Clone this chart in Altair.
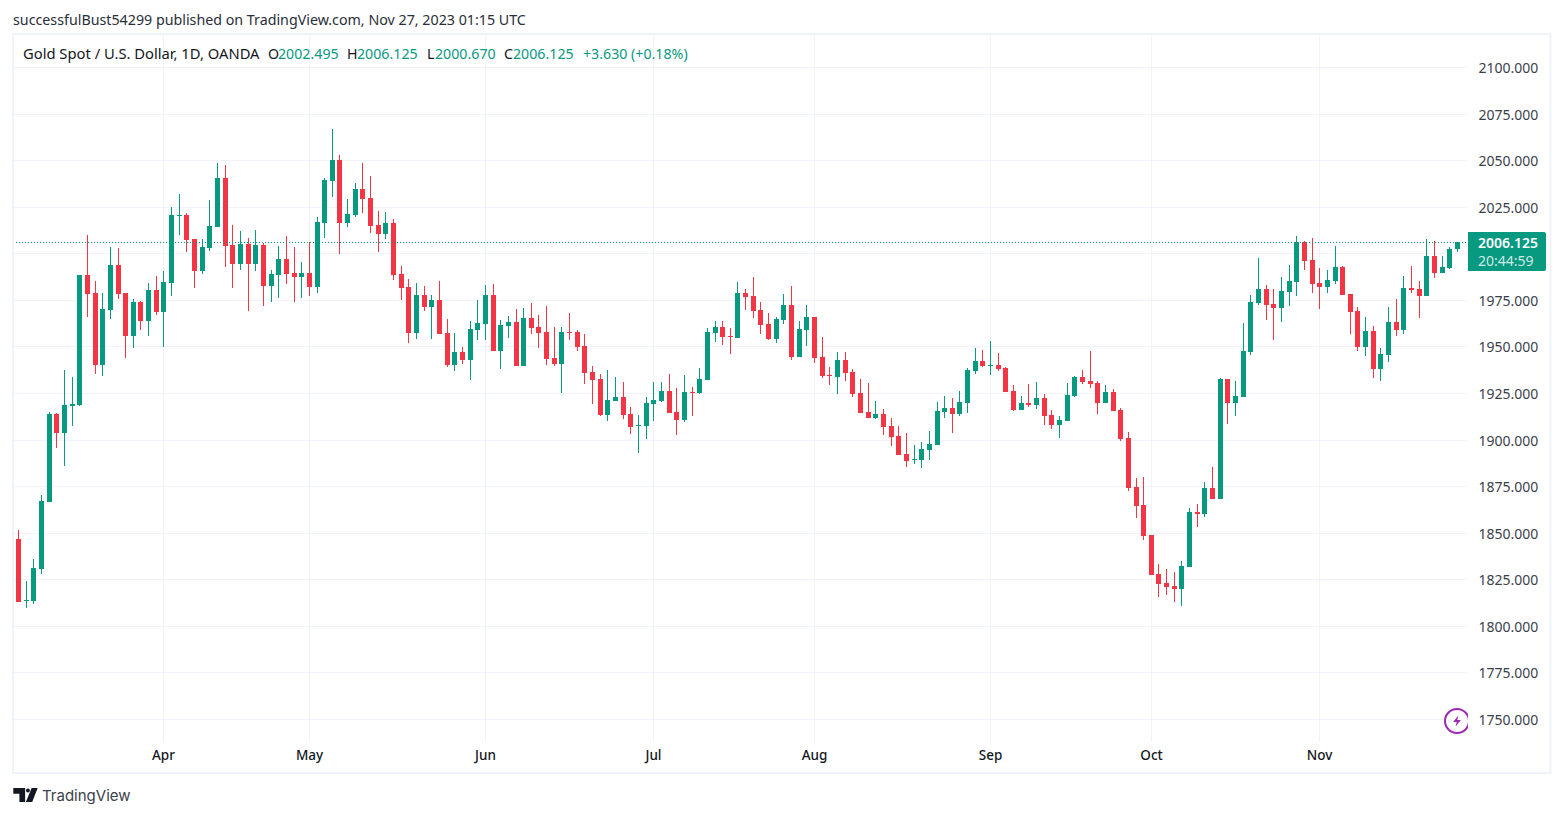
import altair as alt
import pandas as pd

opens = [1846.6,1813.4,1813.4,1830.5,1866.5,1913.7,1903.5,1918.0,1918.6,1988.4,1978.7,1940.0,1969.6,1993.7,1978.7,1955.6,1973.9,1963.7,1980.3,1968.5,
1984.1,2020.0,2020.6,2007.7,1990.5,2002.9,2014.1,2040.4,2004.5,1994.3,2005.0,1994.3,2004.5,1982.5,1988.4,1996.9,1989.4,1987.2,1989.4,1981.9,
2016.3,2038.8,2050.1,2016.3,2020.6,2034.5,2029.7,2015.2,2010.4,2016.3,1988.9,1981.9,1957.2,1977.6,1971.2,1974.9,1957.2,1940.0,1947.0,1942.7,
1958.8,1962.1,1977.6,1947.6,1961.0,1963.1,1939.5,1965.3,1960.4,1957.8,1943.8,1940.6,1957.8,1957.8,1950.2,1936.3,1932.5,1913.2,1920.7,1922.9,
1913.7,1907.3,1907.3,1919.1,1920.7,1926.1,1914.8,1910.5,1925.6,1925.0,1932.0,1957.2,1960.4,1955.6,1954.5,1978.7,1977.1,1969.6,1962.1,1954.0,
1964.2,1972.2,1944.3,1958.8,1965.8,1944.3,1934.7,1933.6,1942.7,1936.3,1925.0,1914.8,1911.6,1913.7,1907.3,1901.9,1892.3,1889.1,1889.1,1894.4,
1897.1,1914.8,1917.0,1913.7,1919.6,1936.8,1942.2,1939.5,1940.0,1938.4,1926.1,1915.9,1919.6,1918.6,1922.3,1913.2,1907.8,1910.0,1923.4,1933.6,
1931.5,1930.4,1919.6,1925.6,1915.9,1900.9,1874.6,1864.9,1848.8,1827.8,1823.0,1821.4,1819.8,1831.6,1861.1,1860.1,1874.0,1868.1,1932.5,1919.6,
1922.9,1947.0,1973.3,1980.8,1972.8,1970.6,1979.2,1984.6,2006.1,1996.4,1984.1,1981.9,1985.1,1992.6,1978.2,1969.0,1949.7,1958.3,1937.9,1945.4,
1963.1,1958.8,1981.4,1980.8,1977.1,1998.6,1989.4,1992.1,2002.495]
highs = [1851.5,1824.1,1835.9,1870.3,1914.8,1914.3,1937.4,1933.6,1988.4,2009.8,1985.1,1978.7,2003.4,2002.9,1978.7,1975.5,1974.4,1984.1,1987.8,1990.5,
2024.9,2031.8,2021.6,2007.7,2007.7,2028.6,2048.5,2047.4,2015.2,2012.0,2008.2,2012.5,2005.5,1991.0,2003.9,2009.3,2003.4,1995.3,2006.1,2019.5,
2040.4,2066.7,2052.8,2029.2,2037.7,2048.5,2041.5,2022.7,2022.2,2018.4,1993.2,1986.2,1984.1,1982.5,1977.6,1985.1,1964.7,1957.2,1949.7,1963.7,
1974.9,1983.0,1983.5,1964.2,1966.3,1970.1,1970.6,1973.3,1966.9,1971.7,1960.4,1960.4,1967.9,1958.8,1956.7,1939.5,1935.2,1937.4,1933.6,1930.9,
1917.5,1913.2,1922.9,1930.9,1930.9,1935.2,1927.7,1934.7,1928.2,1938.4,1959.9,1963.7,1963.7,1959.9,1984.6,1980.8,1987.2,1973.9,1967.9,1965.8,
1978.2,1982.5,1963.7,1972.2,1965.8,1955.1,1938.9,1947.0,1947.0,1937.9,1932.5,1930.4,1920.7,1916.4,1911.6,1907.3,1903.5,1897.1,1898.7,1904.6,
1920.2,1923.4,1922.3,1926.1,1938.4,1949.2,1948.1,1952.9,1946.5,1938.9,1929.3,1923.4,1929.8,1930.9,1924.5,1915.9,1912.7,1930.4,1934.1,1937.4,
1947.6,1931.5,1929.3,1927.2,1917.0,1904.1,1879.4,1879.9,1848.8,1833.2,1830.5,1828.9,1834.8,1863.3,1865.4,1877.2,1885.3,1933.1,1932.5,1931.5,
1962.6,1977.6,1997.5,1983.0,1980.8,1987.2,1993.7,2009.3,2006.6,2008.2,1992.1,1991.0,2003.9,1993.2,1978.2,1971.2,1965.8,1961.0,1949.2,1971.2,
1975.5,1987.8,1993.2,1985.1,2007.7,2006.6,1998.6,2003.4,2006.125]
lows = [1812.8,1809.6,1811.7,1827.9,1866.5,1895.5,1885.8,1907.3,1918.0,1965.8,1935.2,1934.1,1964.7,1975.5,1943.8,1949.2,1958.8,1955.6,1966.9,1949.7,
1977.1,2009.8,2000.7,1981.4,1988.9,2001.2,2014.1,1992.6,1981.4,1991.0,1969.0,1990.5,1971.7,1973.9,1976.0,1983.5,1973.9,1976.0,1977.1,1978.7,
2008.2,2030.2,1999.6,2014.1,2019.5,2021.6,2010.9,2000.7,2007.7,1985.7,1974.9,1951.9,1954.0,1969.0,1954.0,1956.7,1938.9,1936.8,1940.6,1932.0,
1953.5,1953.5,1947.6,1937.9,1954.5,1939.5,1939.5,1956.7,1949.2,1940.0,1939.5,1925.0,1953.5,1947.6,1929.8,1919.1,1912.7,1910.0,1920.7,1911.1,
1903.0,1892.8,1900.3,1910.0,1920.2,1914.3,1902.5,1909.4,1912.7,1924.5,1932.0,1952.4,1950.8,1945.9,1954.5,1969.6,1965.3,1956.7,1953.5,1951.9,
1962.1,1942.7,1944.3,1950.2,1941.1,1933.1,1929.3,1924.5,1931.5,1922.9,1914.3,1911.6,1911.1,1902.5,1896.6,1891.7,1885.3,1886.9,1884.8,1889.1,
1897.1,1911.6,1903.5,1912.7,1914.3,1935.2,1938.9,1934.7,1936.8,1925.6,1915.4,1915.9,1917.5,1916.4,1907.8,1905.7,1900.9,1910.0,1922.9,1929.8,
1927.7,1913.7,1919.6,1915.4,1899.2,1872.4,1857.9,1846.1,1827.3,1815.5,1816.6,1812.8,1810.7,1831.6,1853.1,1858.4,1868.1,1868.1,1908.4,1912.7,
1922.9,1945.4,1972.2,1964.2,1953.5,1963.1,1971.7,1977.1,1991.0,1978.7,1970.1,1978.7,1983.5,1977.6,1956.7,1947.6,1944.9,1933.1,1931.5,1941.6,
1955.6,1956.7,1978.7,1965.3,1977.1,1986.7,1989.4,1991.5,2000.67]
closes = [1812.8,1813.9,1831.1,1867.0,1913.7,1903.5,1918.6,1919.1,1988.4,1978.2,1940.0,1970.1,1993.7,1978.2,1955.6,1973.9,1963.7,1980.3,1968.5,1984.6,
2020.6,2020.6,2007.1,1990.5,2003.4,2014.7,2040.4,2003.9,1994.3,2005.0,1994.3,2004.5,1982.5,1988.9,1996.9,1988.9,1987.2,1989.4,1981.9,2016.8,
2039.4,2050.1,2016.3,2021.1,2034.5,2029.2,2014.7,2010.4,2016.3,1988.4,1981.4,1957.2,1977.6,1971.2,1974.9,1956.7,1940.0,1947.0,1942.7,1959.4,
1962.6,1977.6,1947.6,1961.5,1963.1,1939.5,1965.3,1959.9,1957.2,1943.3,1940.6,1957.8,1957.2,1949.7,1935.7,1932.0,1913.2,1921.3,1922.9,1913.2,
1906.8,1907.8,1919.6,1921.3,1926.1,1914.3,1910.5,1925.6,1925.0,1932.5,1957.8,1960.4,1955.1,1955.1,1978.7,1976.5,1969.0,1961.5,1954.0,1964.7,
1972.2,1944.3,1959.4,1965.8,1943.8,1934.1,1934.1,1942.7,1935.7,1924.5,1914.3,1911.6,1913.7,1906.8,1901.4,1891.7,1888.5,1889.6,1895.0,1897.6,
1915.4,1917.0,1913.7,1920.2,1937.4,1942.2,1939.5,1940.0,1937.9,1925.6,1915.9,1919.6,1918.6,1922.3,1912.7,1907.8,1910.5,1924.0,1933.6,1930.9,
1929.8,1919.6,1925.6,1915.4,1900.3,1874.0,1864.4,1848.2,1827.3,1822.5,1820.9,1819.8,1832.1,1861.1,1860.1,1874.0,1868.1,1932.5,1919.6,1923.4,
1947.6,1973.9,1980.8,1972.2,1970.6,1979.8,1985.1,2006.1,1995.9,1983.5,1981.9,1985.7,1992.6,1977.6,1968.5,1949.7,1958.3,1937.9,1945.9,1963.1,
1958.8,1981.4,1980.3,1977.1,1998.6,1989.4,1992.6,2002.3,2006.125]

month_positions = [19, 38, 61, 83, 104, 127, 148, 170]
month_labels = ["Apr", "May", "Jun", "Jul", "Aug", "Sep", "Oct", "Nov"]
price_ticks = [1750, 1775, 1800, 1825, 1850, 1875, 1900, 1925, 1950, 1975, 2000, 2025, 2050, 2075, 2100]
last_price = 2006.125

GREEN = "#089981"
RED = "#F23645"
GRID = "#F0F3FA"
INK = "#131722"
FONT = "Noto Sans"

df = pd.DataFrame({"i": range(len(opens)), "o": opens, "h": highs, "l": lows, "c": closes})
df["dir"] = ["up" if c >= o else "down" for o, c in zip(opens, closes)]

label_expr = "{" + ",".join(f"{p}:'{m}'" for p, m in zip(month_positions, month_labels)) + "}[datum.value]"
xs = alt.Scale(domain=[-0.653, 189.307], nice=False, zero=False, round=True, padding=0)
ys = alt.Scale(domain=[1738.19, 2117.18], nice=False, zero=False, round=True)
cs = alt.Scale(domain=["up", "down"], range=[GREEN, RED])
x_axis = alt.Axis(values=month_positions, labelExpr=label_expr, grid=True, gridColor=GRID, gridWidth=1,
                  domain=False, ticks=False, labelFont=FONT, labelFontSize=13.5, labelFontWeight=500,
                  labelColor=INK, labelPadding=7, labelFlush=False, title=None)
y_axis = alt.Axis(orient="right", values=price_ticks, format=".3f", grid=True, gridColor=GRID, gridWidth=1,
                  domain=False, ticks=False, labelFont=FONT, labelFontSize=14, labelColor="#3b3f4a",
                  labelPadding=11, labelOffset=1, title=None)

base = alt.Chart(df)
wicks = base.mark_rule(strokeWidth=1, xOffset=0.5).encode(
    x=alt.X("i:Q", scale=xs, axis=x_axis),
    y=alt.Y("h:Q", scale=ys, axis=y_axis),
    y2="l:Q",
    color=alt.Color("dir:N", scale=cs, legend=None),
)
bodies = base.mark_bar(size=5, xOffset=0.5).encode(
    x=alt.X("i:Q", scale=xs, axis=x_axis),
    y=alt.Y("o:Q", scale=ys, axis=y_axis),
    y2="c:Q",
    color=alt.Color("dir:N", scale=cs, legend=None),
)
price_line = alt.Chart(pd.DataFrame({"p": [last_price]})).mark_rule(
    color=GREEN, strokeWidth=1, strokeDash=[1, 2], yOffset=0.5
).encode(y=alt.Y("p:Q", scale=ys, axis=y_axis), x=alt.value(0), x2=alt.value(1455))


def deco():
    return alt.Chart(pd.DataFrame({"a": [0]}))


def text(label, sx, sy, color=INK, size=14.2, weight=400, font=FONT):
    """sx, sy: position on the page."""
    return deco().mark_text(text=label, align="left", baseline="alphabetic", color=color, fontSize=size,
                            fontWeight=weight, font=font).encode(x=alt.value(sx - 13), y=alt.value(sy - 35))


def box(x1, y1, x2, y2, **kw):
    return deco().mark_rect(**kw).encode(x=alt.value(x1 - 13), x2=alt.value(x2 - 13),
                                         y=alt.value(y1 - 35), y2=alt.value(y2 - 35))


frame = box(13, 34, 1550.5, 773, fill="transparent", stroke=GRID, strokeWidth=2)
badge = box(1468, 232, 1546, 271, fill=GREEN, cornerRadiusTopRight=2, cornerRadiusBottomRight=2)

bolt_path = "M0.25,-1 L-0.7,0.2 L-0.05,0.2 L-0.25,1 L0.7,-0.2 L0.05,-0.2 Z"
logo_path = ("M-1,-0.57 L-0.03,-0.57 L-0.03,0.57 L-0.5,0.57 L-0.5,-0.1 L-1,-0.1 Z "
             "M0.04,-0.37 A0.16,0.16 0 1 0 0.36,-0.37 A0.16,0.16 0 1 0 0.04,-0.37 Z "
             "M0.5,-0.57 L1,-0.57 L0.55,0.57 L0.03,0.57 Z")

icon_ring = deco().mark_point(shape="circle", size=576, fill="white", filled=False, stroke="#9C27B0",
                              strokeWidth=2, opacity=1).encode(x=alt.value(1457 - 13), y=alt.value(721 - 35))
icon_bolt = deco().mark_point(shape=bolt_path, size=120, filled=True, fill="#9C27B0", strokeWidth=0, opacity=1).encode(
    x=alt.value(1457 - 13), y=alt.value(721 - 35))
icon_cut = box(1468, 705, 1475, 737, fill="white")
logo = deco().mark_point(shape=logo_path, size=595, filled=True, fill=INK, strokeWidth=0, opacity=1).encode(
    x=alt.value(25.5 - 13), y=alt.value(795 - 35))

texts = [
    text("successfulBust54299 published on TradingView.com, Nov 27, 2023 01:15 UTC", 13, 25, color="#2a2e39", size=14.25),
    text("Gold Spot / U.S. Dollar, 1D, OANDA", 23, 59, size=14.75),
    text("O", 268, 59), text("2002.495", 278, 59, GREEN),
    text("H", 347, 59), text("2006.125", 357, 59, GREEN),
    text("L", 427, 59), text("2000.670", 435, 59, GREEN),
    text("C", 504, 59), text("2006.125", 513, 59, GREEN),
    text("+3.630 (+0.18%)", 583, 59, GREEN),
    text("2006.125", 1478, 247.5, "white", size=14, weight=600),
    text("20:44:59", 1478, 266, "#CDEBE6", size=14),
    text("TradingView", 42, 801, "#3b3f4a", size=15, font="Inter"),
]

chart = alt.layer(
    wicks, bodies, price_line, frame, badge, icon_ring, icon_bolt, icon_cut, logo, *texts
).resolve_scale(x="shared", y="shared").properties(
    width=1454, height=706, background="white",
    padding={"left": 5, "top": 27, "right": 88, "bottom": 68},
    autosize=alt.AutoSizeParams(type="none"),
).configure_view(stroke=None)

chart.save("out.html", embed_options={"renderer": "svg", "actions": False})
